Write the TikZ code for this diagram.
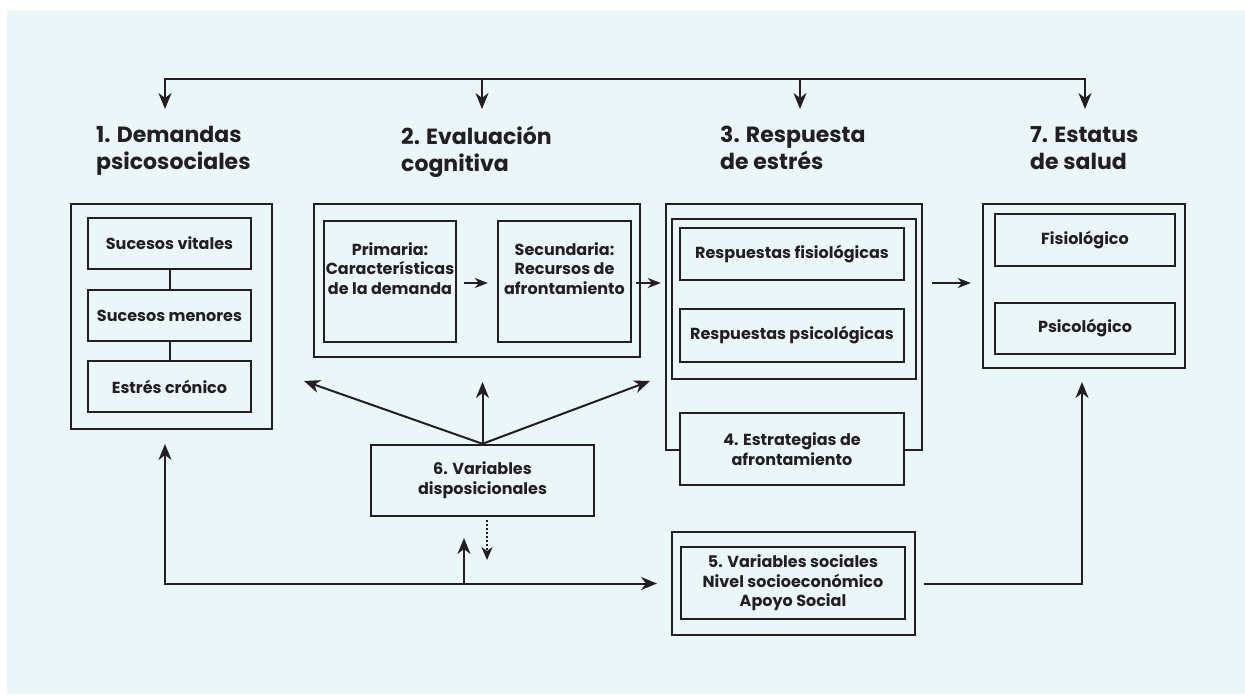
\documentclass[tikz,border=0pt]{standalone}
\usepackage{fontspec}
\setmainfont{Poppins}
\usetikzlibrary{arrows.meta,calc}
\definecolor{ink}{HTML}{231F20}
\definecolor{bgc}{HTML}{EAF6F8}
\begin{document}
\begin{tikzpicture}[x=1pt,y=-1pt,
  box/.style={draw=ink,line width=2.4pt,fill=bgc,inner sep=0pt},
  sz/.style 2 args={minimum width=#1pt,minimum height=#2pt},
  txt/.style={text=ink,font=\fontsize{16}{19.7}\selectfont\bfseries,align=center,inner sep=0pt},
  ttl/.style={text=ink,font=\fontsize{22}{27}\selectfont\bfseries,align=left,inner sep=0pt,anchor=north west},
  arr/.style={draw=ink,line width=2pt,-{Stealth[length=16pt,width=13pt,inset=5pt]}},
  arrtwo/.style={draw=ink,line width=2pt,{Stealth[length=16pt,width=13pt,inset=5pt]}-{Stealth[length=16pt,width=13pt,inset=5pt]}},
  sarr/.style={draw=ink,line width=1.8pt,-{Stealth[length=13pt,width=10pt,inset=4pt]}},
  dotarr/.style={draw=ink,line width=1.8pt,dash pattern=on 2pt off 2pt,-{Stealth[length=13pt,width=11pt,inset=4pt]}},
  link/.style={draw=ink,line width=2pt}]
\useasboundingbox (0,0) rectangle (1245,694);
\fill[white] (0,0) rectangle (1245,694);
\fill[bgc] (7,10) rectangle (1245,694);

% titles
\node[ttl] (t1) at (96,126) {1. Demandas\\psicosociales};
\node[ttl] (t2) at (401,126) {2. Evaluación\\cognitiva};
\node[ttl] (t3) at (720,126) {3. Respuesta\\de estrés};
\node[ttl] (t7) at (1030,126) {7. Estatus\\de salud};

% top arrows
\coordinate (a1) at (165,79);
\coordinate (a2) at (482,79);
\coordinate (a3) at (800,79);
\coordinate (a4) at (1085,79);
\coordinate (e1) at (165,109);
\coordinate (e2) at (482,109);
\coordinate (e3) at (800,109);
\coordinate (e4) at (1085,109);
\draw[link] (a2) -- (a3);
\draw[arr] (a2) -- (a1) -- (e1);
\draw[arr] (a3) -- (a4) -- (e4);
\draw[arr] (a2) -- (e2);
\draw[arr] (a3) -- (e3);

% box 1
\node[box,sz={201}{225}] (o1) at (171.5,316.5) {};
\node[box,sz={163}{51},txt] (b11) at (169.5,243.5) {Sucesos vitales};
\node[box,sz={163}{51},txt] (b12) at (169.5,315.5) {Sucesos menores};
\node[box,sz={163}{51},txt] (b13) at (169.5,386.5) {Estrés crónico};
\draw[link] (b11.south) -- (b12.north);
\draw[link] (b12.south) -- (b13.north);

% box 2
\node[box,sz={326}{153}] (o2) at (477,280.5) {};
\node[box,sz={132}{121}] (b21) at (390,281.5) {};
\node[box,sz={133}{121}] (b22) at (564.5,281.5) {};
\node[txt] (t21) at (390,268.5) {Primaria:\\Características\\de la demanda};
\node[txt] (t22) at (564.5,268.5) {Secundaria:\\Recursos de\\afrontamiento};
\coordinate (m2) at (0,283);
\draw[sarr] ($(b21.east |- m2)+(7,0)$) -- ($(b22.west |- m2)+(-9,0)$);

% box 3
\node[box,sz={256}{246}] (o3) at (794,327) {};
\node[box,sz={244}{160}] (g3) at (794,299) {};
\node[box,sz={224}{52},txt] (b31) at (792,254) {Respuestas fisiológicas};
\node[box,sz={224}{53},txt] (b32) at (792,335.5) {Respuestas psicológicas};
\node[box,sz={224}{72},txt] (b4) at (792,449) {4. Estrategias de\\afrontamiento};
\draw[sarr] ($(b22.east |- m2)+(4,0)$) -- ($(o3.west |- m2)+(-4,0)$);

% box 7
\node[box,sz={202}{164}] (o7) at (1084,286) {};
\node[box,sz={180}{52},txt] (b71) at (1085,240) {Fisiológico};
\node[box,sz={180}{51},txt] (b72) at (1085,328.5) {Psicológico};
\draw[sarr] ($(o3.east |- m2)+(9,0)$) -- ($(o7.west |- m2)+(-11,0)$);

% box 6
\node[box,sz={223}{71},txt] (b6) at (482.5,480.5) {6. Variables\\disposicionales};
\coordinate (f1) at (304,381);
\coordinate (f2) at (482.5,382);
\coordinate (f3) at (650,381);
\draw[arr] (b6.north) -- (f1);
\draw[arr] (b6.north) -- (f2);
\draw[arr] (b6.north) -- (f3);
\coordinate (dtip) at (487,560);
\draw[dotarr] ($(b6.south)+(4.5,3)$) -- (dtip);

% box 5
\node[box,sz={243}{103}] (o5) at (793.5,583.5) {};
\node[box,sz={224}{72},txt] (b5) at (793,583) {5. Variables sociales\\Nivel socioeconómico\\Apoyo Social};

% bottom connectors
\coordinate (j0) at (165,583.5);
\coordinate (u1) at (165,444);
\coordinate (r1) at (657,583.5);
\coordinate (j1) at (464,583.5);
\coordinate (u2) at (464,538);
\coordinate (u7) at (1082,382);
\draw[arrtwo] (u1) -- (j0) -- (r1);
\draw[arr] (j1) -- (u2);
\draw[arr] ($(o5.east)+(8,0)$) -| (u7);
\end{tikzpicture}
\end{document}
